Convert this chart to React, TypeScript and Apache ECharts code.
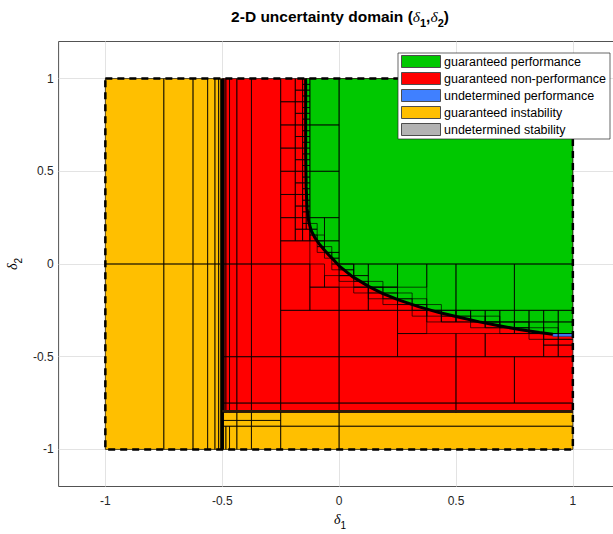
import React, { useEffect, useRef } from 'react';
import * as echarts from 'echarts';

// ---------- axes ----------
const axisRange = [-1.2, 1.2];
const xTicks = [-1, -0.5, 0, 0.5, 1];
const yTicks = [-1, -0.5, 0, 0.5, 1];
const domainBox = [[-1, 1, -1, 1]];

// ---------- legend ----------
const legendLabels = [
  'guaranteed performance',
  'guaranteed non-performance',
  'undetermined performance',
  'guaranteed instability',
  'undetermined stability',
];
const legendColors = ['#00C800', '#FF0000', '#4080FF', '#FFBF00', '#B3B3B3'];

// ---------- region fills [x0, x1, y0, y1] ----------
const instabilityRegions = [
  [-1, -0.5, -1, 1],
  [-0.5, 1, -1, -0.8],
];
const nonPerformanceRegions = [[-0.5, 1, -0.8, 1]];
const undeterminedPerfCells = [[0.914, 1, -0.39, -0.375]];

// performance boundary (guaranteed performance lies above / right)
const perfBoundaryX = [-0.143, -0.143, -0.141, -0.137, -0.13, -0.12, -0.105, -0.086, -0.065, -0.043, -0.02, 0, 0.057, 0.128, 0.185, 0.257, 0.343, 0.428, 0.514, 0.6, 0.685, 0.771, 0.857, 0.914];
const perfBoundaryY = [1, 0.6, 0.42, 0.3, 0.23, 0.182, 0.145, 0.11, 0.078, 0.047, 0.018, -0.01, -0.068, -0.122, -0.158, -0.195, -0.231, -0.262, -0.287, -0.312, -0.333, -0.353, -0.369, -0.379];
const perfRegionCorners = [[1, -0.375], [1, 1]];

// stability boundaries
const stabilityEdgeV = [[-0.5, -1], [-0.5, 1]];
const stabilityEdgeH = [[-0.5, -0.793], [1, -0.793]];

// ---------- subdivision cells [x0, x1, y0, y1] ----------
const instabilityCells = [
  [-1, -0.75, 0, 1], [-1, -0.75, -1, 0],
  [-0.75, -0.625, 0, 1], [-0.75, -0.625, -1, 0],
  [-0.625, -0.5625, 0, 1], [-0.625, -0.5625, -1, 0],
  [-0.5625, -0.53125, 0, 1], [-0.5625, -0.53125, -1, 0],
  [-0.53125, -0.515625, 0, 1], [-0.53125, -0.515625, -1, 0],
  [-0.515625, -0.5078, 0, 1], [-0.515625, -0.5078, -1, 0],
  [-0.5, -0.4844, -1, -0.875], [-0.4844, -0.46875, -1, -0.875], [-0.46875, -0.4375, -1, -0.875],
  [-0.4375, -0.375, -1, -0.875], [-0.375, -0.25, -1, -0.875], [-0.25, 0, -1, -0.875], [0, 1, -1, -0.875],
  [-0.5, -0.4375, -0.875, -0.84375], [-0.4375, -0.375, -0.875, -0.84375], [-0.375, -0.25, -0.875, -0.84375],
  [-0.5, -0.4375, -0.84375, -0.8], [-0.4375, -0.375, -0.84375, -0.8], [-0.375, -0.25, -0.84375, -0.8],
  [-0.25, 0, -0.875, -0.8], [0, 1, -0.875, -0.8],
];

const nonPerformanceCells = [
  [-0.5, -0.4922, 0, 1], [-0.5, -0.4922, -0.5, 0], [-0.5, -0.4922, -0.75, -0.5], [-0.5, -0.4922, -0.8, -0.75],
  [-0.4922, -0.4844, 0, 1], [-0.4922, -0.4844, -0.5, 0], [-0.4922, -0.4844, -0.75, -0.5], [-0.4922, -0.4844, -0.8, -0.75],
  [-0.4844, -0.46875, 0, 1], [-0.4844, -0.46875, -0.5, 0], [-0.4844, -0.46875, -0.75, -0.5], [-0.4844, -0.46875, -0.8, -0.75],
  [-0.46875, -0.4375, 0, 1], [-0.46875, -0.4375, -0.5, 0], [-0.46875, -0.4375, -0.75, -0.5], [-0.46875, -0.4375, -0.8, -0.75],
  [-0.4375, -0.375, 0, 1], [-0.4375, -0.375, -0.5, 0], [-0.4375, -0.375, -0.75, -0.5], [-0.4375, -0.375, -0.8, -0.75],
  [-0.375, -0.25, 0, 1], [-0.375, -0.25, -0.5, 0], [-0.375, -0.25, -0.75, -0.5], [-0.375, -0.25, -0.8, -0.75],
  [-0.25, -0.1875, 0.875, 1], [-0.25, -0.1875, 0.75, 0.875], [-0.25, -0.1875, 0.625, 0.75], [-0.25, -0.1875, 0.5, 0.625],
  [-0.25, -0.1875, 0.375, 0.5], [-0.25, -0.1875, 0.25, 0.375], [-0.25, -0.1875, 0.125, 0.25],
  [-0.1875, -0.15625, 0.9375, 1], [-0.1875, -0.15625, 0.875, 0.9375], [-0.1875, -0.15625, 0.8125, 0.875],
  [-0.1875, -0.15625, 0.75, 0.8125], [-0.1875, -0.15625, 0.6875, 0.75], [-0.1875, -0.15625, 0.625, 0.6875],
  [-0.1875, -0.15625, 0.5625, 0.625], [-0.1875, -0.15625, 0.5, 0.5625], [-0.1875, -0.15625, 0.4375, 0.5],
  [-0.1875, -0.15625, 0.375, 0.4375], [-0.1875, -0.15625, 0.3125, 0.375], [-0.1875, -0.15625, 0.25, 0.3125],
  [-0.1875, -0.15625, 0.1875, 0.25], [-0.1875, -0.15625, 0.125, 0.1875], [-0.15625, -0.125, 0.125, 0.1875],
  [-0.25, -0.125, 0, 0.125], [-0.25, -0.125, -0.25, 0],
  [-0.125, 0, -0.25, -0.125], [-0.125, -0.0625, -0.125, 0], [-0.0625, 0, -0.125, -0.0625],
  [-0.25, 0, -0.5, -0.25], [0, 0.25, -0.5, -0.25],
  [0, 0.125, -0.25, -0.125], [0.125, 0.25, -0.25, -0.125], [0.25, 0.375, -0.375, -0.25],
  [0.25, 0.5, -0.5, -0.375], [0.5, 0.625, -0.5, -0.375], [0.625, 0.875, -0.5, -0.375],
  [0.875, 0.9375, -0.5, -0.4375], [0.9375, 1, -0.5, -0.4375],
  [0.875, 0.9375, -0.4375, -0.40625], [0.9375, 1, -0.4375, -0.40625],
  [-0.25, 0, -0.75, -0.5], [0, 0.5, -0.75, -0.5], [0.5, 0.75, -0.75, -0.5], [0.75, 1, -0.75, -0.5],
  [-0.25, 0, -0.8, -0.75], [0, 0.5, -0.8, -0.75], [0.5, 1, -0.8, -0.75],
];

const performanceCells = [
  [0, 1, 0, 1],
  [-0.125, 0, 0.75, 1], [-0.125, 0, 0.5, 0.75], [-0.125, 0, 0.25, 0.5],
  [-0.125, -0.0625, 0.125, 0.25], [-0.0625, 0, 0.125, 0.25], [-0.0625, 0, 0.0625, 0.125],
  [0, 0.0625, -0.0625, 0], [0.0625, 0.125, -0.0625, 0],
  [0.125, 0.25, -0.125, 0], [0.25, 0.375, -0.125, 0],
  [0.375, 0.5, -0.25, 0], [0.5, 0.75, -0.25, 0], [0.75, 1, -0.25, 0],
  [0.375, 0.4375, -0.3125, -0.25], [0.4375, 0.5, -0.3125, -0.25], [0.5, 0.5625, -0.3125, -0.25],
  [0.5625, 0.625, -0.3125, -0.25], [0.625, 0.6875, -0.3125, -0.25], [0.6875, 0.75, -0.3125, -0.25],
  [0.75, 0.8125, -0.3125, -0.25], [0.8125, 0.875, -0.3125, -0.25], [0.875, 0.9375, -0.3125, -0.25],
  [0.9375, 1, -0.3125, -0.25],
  [0.625, 0.6875, -0.34375, -0.3125], [0.6875, 0.75, -0.34375, -0.3125], [0.75, 0.8125, -0.34375, -0.3125],
  [0.8125, 0.875, -0.375, -0.3125], [0.875, 0.9375, -0.375, -0.3125], [0.9375, 1, -0.375, -0.3125],
];

// small cells hugging the performance boundary
const boundaryCells = [
  [-0.125, -0.09375, 0.125, 0.15625], [-0.125, -0.09375, 0.15625, 0.1875], [-0.125, -0.09375, 0.1875, 0.21875],
  [-0.09375, -0.0625, 0.0625, 0.09375], [-0.09375, -0.0625, 0.09375, 0.125], [-0.09375, -0.0625, 0.125, 0.15625],
  [-0.0625, -0.03125, 0.03125, 0.0625], [-0.0625, -0.03125, 0.0625, 0.09375],
  [-0.03125, 0, -0.03125, 0], [-0.03125, 0, 0, 0.03125], [-0.03125, 0, 0.03125, 0.0625],
  [0, 0.0625, -0.03125, 0], [0, 0.0625, -0.0625, -0.03125], [0, 0.0625, -0.09375, -0.0625],
  [0.0625, 0.125, -0.09375, -0.0625], [0.0625, 0.125, -0.125, -0.09375], [0.0625, 0.125, -0.15625, -0.125],
  [0.125, 0.1875, -0.125, -0.09375], [0.125, 0.1875, -0.15625, -0.125], [0.125, 0.1875, -0.1875, -0.15625],
  [0.1875, 0.25, -0.15625, -0.125], [0.1875, 0.25, -0.1875, -0.15625], [0.1875, 0.25, -0.21875, -0.1875],
  [0.25, 0.3125, -0.1875, -0.15625], [0.25, 0.3125, -0.21875, -0.1875], [0.25, 0.3125, -0.25, -0.21875],
  [0.3125, 0.375, -0.21875, -0.1875], [0.3125, 0.375, -0.25, -0.21875], [0.3125, 0.375, -0.28125, -0.25],
  [0.375, 0.4375, -0.25, -0.21875], [0.375, 0.4375, -0.28125, -0.25],
  [0.4375, 0.5, -0.28125, -0.25], [0.4375, 0.5, -0.3125, -0.28125],
  [0.5, 0.5625, -0.28125, -0.25], [0.5, 0.5625, -0.3125, -0.28125],
  [0.5625, 0.625, -0.3125, -0.28125], [0.5625, 0.625, -0.34375, -0.3125],
  [0.625, 0.6875, -0.3125, -0.28125], [0.625, 0.6875, -0.34375, -0.3125],
  [0.6875, 0.75, -0.34375, -0.3125], [0.6875, 0.75, -0.375, -0.34375],
  [0.75, 0.8125, -0.34375, -0.3125], [0.75, 0.8125, -0.375, -0.34375],
  [0.8125, 0.875, -0.375, -0.34375], [0.8125, 0.875, -0.40625, -0.375],
  [0.875, 0.9375, -0.375, -0.34375], [0.875, 0.9375, -0.40625, -0.375],
  [0.9375, 1, -0.40625, -0.375],
];

// ladder of tiny cells along the upper, nearly vertical part of the boundary
const ladderColumns = [[-0.15625, -0.140625], [-0.140625, -0.125]];
const ladderBreaks = [0.1875, 0.21875, 0.25, 0.28125, 0.3125, 0.34375, 0.375, 0.40625, 0.4375, 0.46875, 0.5, 0.53125, 0.5625, 0.59375, 0.625, 0.65625, 0.6875, 0.71875, 0.75, 0.78125, 0.8125, 0.84375, 0.875, 0.90625, 0.9375, 0.96875, 1];

const FONT = '"Liberation Sans", Arial, Helvetica, sans-serif';

function buildLadder() {
  const out: number[][] = [];
  ladderColumns.forEach(([a, b]) => {
    for (let i = 0; i < ladderBreaks.length - 1; i++) out.push([a, b, ladderBreaks[i], ladderBreaks[i + 1]]);
  });
  return out;
}

function rectSeries(data: number[][], style: any, z: number) {
  return {
    type: 'custom',
    data,
    silent: true,
    clip: false,
    z,
    encode: { x: [0, 1], y: [2, 3] },
    renderItem: (_p: any, api: any) => {
      const a = api.coord([api.value(0), api.value(3)]);
      const b = api.coord([api.value(1), api.value(2)]);
      return {
        type: 'rect',
        shape: { x: a[0], y: a[1], width: b[0] - a[0], height: b[1] - a[1] },
        style: { ...style },
      };
    },
  };
}

const cellEdge = { fill: 'none', stroke: '#000', lineWidth: 0.8, opacity: 0.85 };

export default function App() {
  const ref = useRef<HTMLDivElement>(null);
  useEffect(() => {
    if (!ref.current) return;
    const chart = echarts.init(ref.current, null, { renderer: 'svg' });

    const subRich = (size: number, bold: boolean) => ({
      b: { fontSize: size, fontWeight: bold ? 'bold' : 'normal', fontFamily: FONT, lineHeight: size + 3, verticalAlign: 'top', fill: '#000' },
      d: { fontSize: size, fontStyle: 'italic', fontWeight: 'normal', fontFamily: '"Liberation Serif", "DejaVu Serif", serif', lineHeight: size + 3, verticalAlign: 'top', fill: '#000' },
      s: { fontSize: Math.round(size * 0.72), fontWeight: bold ? 'bold' : 'normal', fontFamily: FONT, lineHeight: Math.round(size * 0.72) + 2, padding: [Math.round(size * 0.6), 0, 0, 0], verticalAlign: 'top', fill: '#000' },
    });

    const legendTop = 53;
    const rowH = 17;
    const LZ = 100;
    const legendEls: any[] = [
      { type: 'rect', z: LZ, shape: { x: 398, y: legendTop, width: 212, height: 86 }, style: { fill: '#fff', stroke: '#262626', lineWidth: 0.7 } },
    ];
    legendLabels.forEach((lab, i) => {
      const cy = legendTop + 8.5 + i * rowH;
      legendEls.push({ type: 'rect', z: LZ + 1, shape: { x: 401.5, y: cy - 6, width: 39, height: 12 }, style: { fill: legendColors[i], stroke: '#4d4d4d', lineWidth: 1 } });
      legendEls.push({ type: 'text', z: LZ + 1, x: 444, y: cy, style: { text: lab, fontSize: 12.5, fontFamily: FONT, fill: '#000', verticalAlign: 'middle', align: 'left' } });
    });

    const option: any = {
      animation: false,
      backgroundColor: '#fff',
      textStyle: { fontFamily: FONT },
      grid: { left: 58.6, top: 41.5, width: 561, height: 445, show: true, borderColor: '#262626', borderWidth: 0.8, backgroundColor: '#fff', outerBoundsMode: 'none', containLabel: false },
      xAxis: {
        type: 'value', min: axisRange[0], max: axisRange[1],
        axisLine: { show: false },
        axisTick: { show: false, customValues: xTicks },
        axisLabel: { customValues: xTicks, fontSize: 12, color: '#262626', margin: 8, fontFamily: FONT, formatter: (v: number) => String(v) },
        splitLine: { show: true, lineStyle: { color: '#e3e3e3', width: 1 } },
      },
      yAxis: {
        type: 'value', min: axisRange[0], max: axisRange[1],
        axisLine: { show: false },
        axisTick: { show: false, customValues: yTicks },
        axisLabel: { customValues: yTicks, fontSize: 12, color: '#262626', margin: 5, fontFamily: FONT, formatter: (v: number) => String(v) },
        splitLine: { show: true, lineStyle: { color: '#e3e3e3', width: 1 } },
      },
      series: [
        rectSeries(instabilityRegions, { fill: legendColors[3], stroke: 'none' }, 1),
        rectSeries(nonPerformanceRegions, { fill: legendColors[1], stroke: 'none' }, 1),
        {
          type: 'custom', data: [[0, 0]], silent: true, clip: false, z: 2,
          renderItem: (_p: any, api: any) => {
            const pts = perfBoundaryX.map((x, i) => api.coord([x, perfBoundaryY[i]]));
            perfRegionCorners.forEach((c) => pts.push(api.coord(c)));
            return { type: 'polygon', shape: { points: pts }, style: { fill: legendColors[0], stroke: 'none' } };
          },
        },
        rectSeries(undeterminedPerfCells, { fill: legendColors[2], stroke: '#1a3a80', lineWidth: 0.8 }, 3),
        rectSeries(instabilityCells, cellEdge, 4),
        rectSeries(nonPerformanceCells, cellEdge, 4),
        rectSeries(performanceCells, cellEdge, 4),
        rectSeries(boundaryCells, cellEdge, 4),
        rectSeries(buildLadder(), cellEdge, 4),
        {
          type: 'line', data: perfBoundaryX.map((x, i) => [x, perfBoundaryY[i]]), symbol: 'none', silent: true, z: 5,
          lineStyle: { color: '#000', width: 3 },
        },
        { type: 'line', data: stabilityEdgeV, symbol: 'none', silent: true, z: 5, lineStyle: { color: '#000', width: 3.5 } },
        { type: 'line', data: stabilityEdgeH, symbol: 'none', silent: true, z: 5, lineStyle: { color: '#2a1a0a', width: 2.2 } },
        rectSeries(domainBox, { fill: 'none', stroke: '#000', lineWidth: 2.5, lineDash: [7, 5] }, 6),
      ],
      graphic: [
        {
          type: 'text', x: 340, y: 8, z: 10,
          style: { text: '{b|2-D uncertainty domain (}{d|δ}{s|1}{b|,}{d|δ}{s|2}{b|)}', rich: subRich(15.5, true), align: 'center', verticalAlign: 'top' },
        },
        {
          type: 'text', x: 340, y: 512, z: 10,
          style: { text: '{d|δ}{s|1}', rich: subRich(14, false), align: 'center', verticalAlign: 'top' },
        },
        {
          type: 'text', x: 14, y: 264, rotation: Math.PI / 2, z: 10,
          style: { text: '{d|δ}{s|2}', rich: subRich(14, false), align: 'center', verticalAlign: 'middle' },
        },
        ...legendEls,
      ],
    };
    chart.setOption(option);
    return () => chart.dispose();
  }, []);
  return <div ref={ref} style={{ position: 'absolute', left: 0, top: 0, width: 613, height: 534 }} />;
}
